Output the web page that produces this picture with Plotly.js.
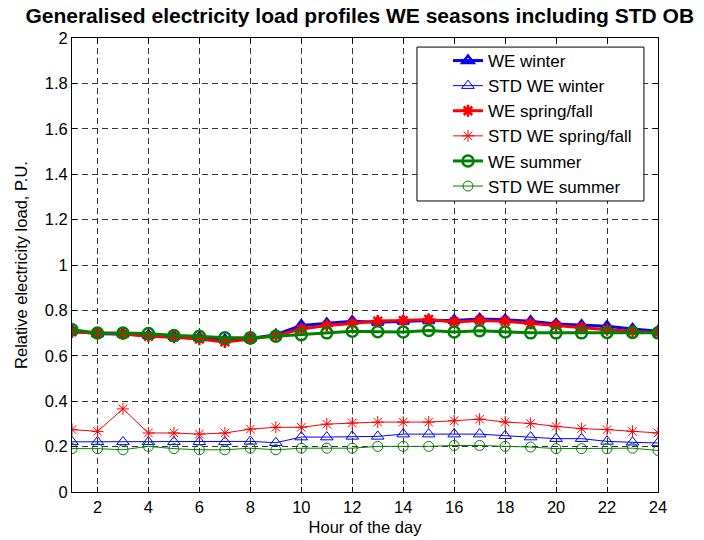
<!DOCTYPE html>
<html>
<head>
<meta charset="utf-8">
<script src="https://cdn.plot.ly/plotly-3.0.1.min.js"></script>
<style>html,body{margin:0;padding:0;background:#fff;}#chart{width:704px;height:540px;}</style>
</head>
<body>
<div id="chart"></div>
<script>
const hours = [1,2,3,4,5,6,7,8,9,10,11,12,13,14,15,16,17,18,19,20,21,22,23,24];

const weWinter = [0.710,0.697,0.696,0.690,0.686,0.680,0.671,0.676,0.693,0.734,0.742,0.752,0.748,0.752,0.756,0.756,0.762,0.759,0.752,0.740,0.734,0.730,0.718,0.708];
const stdWinter = [0.221,0.221,0.221,0.221,0.221,0.221,0.221,0.223,0.217,0.242,0.242,0.245,0.245,0.255,0.255,0.255,0.255,0.248,0.242,0.235,0.235,0.223,0.219,0.216];
const weSpring = [0.705,0.700,0.696,0.686,0.682,0.674,0.661,0.674,0.689,0.718,0.733,0.742,0.753,0.755,0.760,0.749,0.756,0.752,0.742,0.733,0.723,0.715,0.708,0.701];
const stdSpring = [0.275,0.267,0.366,0.260,0.260,0.255,0.260,0.277,0.285,0.285,0.299,0.304,0.308,0.308,0.308,0.314,0.321,0.308,0.302,0.289,0.279,0.275,0.267,0.260];
const weSummer = [0.715,0.700,0.700,0.698,0.689,0.686,0.679,0.679,0.686,0.693,0.701,0.708,0.706,0.705,0.712,0.705,0.710,0.705,0.701,0.701,0.701,0.703,0.703,0.701];
const stdSummer = [0.191,0.191,0.186,0.201,0.191,0.186,0.186,0.193,0.186,0.193,0.193,0.193,0.201,0.201,0.201,0.205,0.205,0.201,0.198,0.191,0.191,0.191,0.193,0.183];

const seriesNames = ['WE winter','STD WE winter','WE spring/fall','STD WE spring/fall','WE summer','STD WE summer'];
const xTicks = [2,4,6,8,10,12,14,16,18,20,22,24];
const yTicks = [0,0.2,0.4,0.6,0.8,1,1.2,1.4,1.6,1.8,2];
const yTickText = ['0','0.2','0.4','0.6','0.8','1','1.2','1.4','1.6','1.8','2'];

function tr(y, name, color, lw, sym, msize, mlw) {
  return {
    x: hours, y: y, name: name, type: 'scatter', mode: 'lines+markers',
    line: {color: color, width: lw},
    marker: {symbol: sym, size: msize, color: color, line: {color: color, width: mlw}}
  };
}

const data = [
  tr(weWinter, seriesNames[0], '#0000ff', 3, 'triangle-up-open', 10, 2.5),
  tr(stdWinter, seriesNames[1], '#0000ff', 1, 'triangle-up-open', 11, 1),
  tr(weSpring, seriesNames[2], '#ff0000', 3, 'asterisk-open', 10, 2.5),
  tr(stdSpring, seriesNames[3], '#ff0000', 1, 'asterisk-open', 10, 1),
  tr(weSummer, seriesNames[4], '#008000', 3, 'circle-open', 11, 2.5),
  tr(stdSummer, seriesNames[5], '#008000', 1, 'circle-open', 10, 1)
];

const font = 'Liberation Sans, Arial, sans-serif';
const layout = {
  width: 704, height: 540,
  margin: {l: 72, r: 46, t: 38, b: 48},
  paper_bgcolor: '#fff', plot_bgcolor: '#fff',
  font: {family: font, size: 17, color: '#000'},
  title: {text: '<b>Generalised electricity load profiles WE seasons including STD OB</b>',
          font: {family: font, size: 21, color: '#000'}, x: 0.511, xanchor: 'center', y: 0.971, yanchor: 'middle'},
  xaxis: {
    range: [1, 24], tickvals: xTicks, ticktext: xTicks.map(String),
    showgrid: true, gridcolor: '#333', griddash: '6px,4px', gridwidth: 1,
    showline: true, linecolor: '#000', linewidth: 1, mirror: 'ticks',
    ticks: 'inside', ticklen: 5, tickcolor: '#000', zeroline: false,
    tickfont: {size: 16.5},
    title: {text: 'Hour of the day', font: {size: 16.5}, standoff: 6}
  },
  yaxis: {
    range: [0, 2], tickvals: yTicks, ticktext: yTickText,
    showgrid: true, gridcolor: '#333', griddash: '6px,4px', gridwidth: 1,
    showline: true, linecolor: '#000', linewidth: 1, mirror: 'ticks',
    ticks: 'inside', ticklen: 5, tickcolor: '#000', zeroline: false,
    tickfont: {size: 16.5},
    title: {text: 'Relative electricity load, P.U.', font: {size: 16.5}, standoff: 12}
  },
  shapes: [{
    type: 'rect', xref: 'paper', yref: 'paper', layer: 'above',
    x0: 0.5887, x1: 0.976, y0: 0.641, y1: 0.980,
    fillcolor: '#fff', line: {color: '#000', width: 1}
  }],
  legend: {
    x: 0.6416, y: 0.989, xanchor: 'left', yanchor: 'top',
    bgcolor: 'rgba(0,0,0,0)', borderwidth: 0,
    font: {size: 17, color: '#000'}
  },
  showlegend: true
};

Plotly.newPlot('chart', data, layout, {displayModeBar: false, staticPlot: true});
</script>
</body>
</html>
